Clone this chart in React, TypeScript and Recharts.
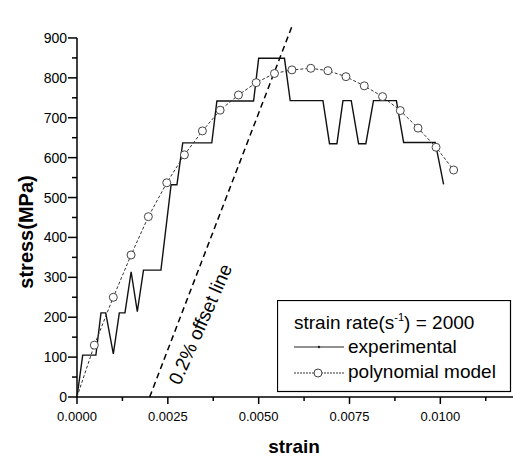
import React from 'react';
import { LineChart, Line, XAxis, YAxis, ReferenceLine, Legend, Label } from 'recharts';

// experimental (step-like) stress-strain curve
const expStrain = [0, 0.000157, 0.00052, 0.00066, 0.00079, 0.001, 0.001165, 0.00132, 0.00149, 0.00166, 0.00183, 0.00231, 0.00259, 0.00275, 0.00291, 0.00371, 0.00385, 0.00486, 0.005, 0.00571, 0.005868, 0.006769, 0.00695, 0.007154, 0.00732, 0.007548, 0.00775, 0.00795, 0.00816, 0.00879, 0.00899, 0.00986, 0.01009];
const expStress = [0, 105, 105, 211, 211, 108, 211, 211, 314, 214, 318, 318, 532, 532, 637, 637, 742, 742, 849, 849, 743, 743, 635, 635, 743, 743, 635, 635, 743, 743, 638, 638, 533];

// polynomial model
const polyStrain = [0, 0.000477, 0.000999, 0.001488, 0.001964, 0.002471, 0.002956, 0.003452, 0.003939, 0.004444, 0.004931, 0.005435, 0.005915, 0.006435, 0.006906, 0.007402, 0.007906, 0.00841, 0.008898, 0.009386, 0.009882, 0.010366];
const polyStress = [0, 130, 250, 356, 452, 537, 607, 667, 719, 757, 788, 811, 820, 824, 818, 803, 780, 753, 718, 674, 626, 569];

// 0.2% offset line
const offsetStrain = [0.002, 0.00592];
const offsetStress = [0, 930];

const xTicks = [0, 0.00125, 0.0025, 0.00375, 0.005, 0.00625, 0.0075, 0.00875, 0.01, 0.01125];
const yTicks = [0, 50, 100, 150, 200, 250, 300, 350, 400, 450, 500, 550, 600, 650, 700, 750, 800, 850, 900];

const expData = expStrain.map((x, i) => ({ x, y: expStress[i] }));
const polyData = polyStrain.map((x, i) => ({ x, y: polyStress[i] }));
const offsetData = offsetStrain.map((x, i) => ({ x, y: offsetStress[i] }));

const FONT = '"Liberation Sans", Arial, sans-serif';

const XTick = (props: any) => {
  const { x, y, payload } = props;
  const v = payload.value;
  const major = Math.abs(v / 0.0025 - Math.round(v / 0.0025)) < 1e-6;
  return (
    <g>
      <line x1={x} y1={y} x2={x} y2={y + (major ? 7 : 4)} stroke="#000" strokeWidth={1.5} />
      {major && (
        <text x={x} y={y + 24} textAnchor="middle" fontSize={13} fontFamily={FONT} fill="#000">
          {v.toFixed(4)}
        </text>
      )}
    </g>
  );
};

const YTick = (props: any) => {
  const { x, y, payload } = props;
  const v = payload.value;
  const major = v % 100 === 0;
  return (
    <g>
      <line x1={x - (major ? 9 : 5)} y1={y} x2={x} y2={y} stroke="#000" strokeWidth={1.5} />
      {major && (
        <text x={x - 10} y={y} dy="0.36em" textAnchor="end" fontSize={14} fontFamily={FONT} fill="#000">
          {v}
        </text>
      )}
    </g>
  );
};

const PolyDot = (props: any) => {
  const { cx, cy, index } = props;
  if (index === 0) return <g key={`d${index}`} />;
  return <circle key={`d${index}`} cx={cx} cy={cy} r={4} fill="#fff" stroke="#444" strokeWidth={1} />;
};

const LegendBox = () => (
  <svg width={235} height={93} style={{ display: 'block' }}>
    <rect x={0.5} y={0.5} width={233} height={91} fill="#fff" stroke="#000" strokeWidth={1.2} />
    <text x={17} y={29} fontSize={19} fontFamily={FONT} fill="#000">
      strain rate(s<tspan dy={-8} fontSize={11}>-1</tspan>
      <tspan dy={8}>) = 2000</tspan>
    </text>
    <line x1={17} y1={47} x2={67} y2={47} stroke="#222" strokeWidth={1} />
    <circle cx={42} cy={47} r={1.2} fill="#222" />
    <text x={71} y={53} fontSize={19} fontFamily={FONT} fill="#000">experimental</text>
    <line x1={17} y1={73} x2={67} y2={73} stroke="#333" strokeWidth={1} strokeDasharray="2 1" />
    <circle cx={41} cy={73} r={4} fill="#fff" stroke="#444" strokeWidth={1} />
    <text x={71} y={78} fontSize={19} fontFamily={FONT} fill="#000">polynomial model</text>
  </svg>
);

export default function App() {
  return (
    <div style={{ position: 'absolute', left: 0, top: 0, width: 513, height: 456, background: '#fff' }}>
      <LineChart width={513} height={456} margin={{ top: 26, right: 0, bottom: 29, left: 0 }}>
        <XAxis
          dataKey="x"
          type="number"
          domain={[0, 0.012]}
          ticks={xTicks}
          tickLine={false}
          tickSize={0}
          tickMargin={0}
          tick={<XTick />}
          axisLine={{ stroke: '#000', strokeWidth: 1.5 }}
          height={30}
          interval={0}
        >
          <Label
            content={(p: any) => {
              const vb = p.viewBox;
              return (
                <text x={vb.x + vb.width / 2 - 1} y={453} textAnchor="middle" fontSize={19} fontWeight="bold" fontFamily={FONT} fill="#000">
                  strain
                </text>
              );
            }}
          />
        </XAxis>
        <YAxis
          dataKey="y"
          type="number"
          domain={[0, 930]}
          ticks={yTicks}
          tickLine={false}
          tickSize={0}
          tickMargin={0}
          tick={<YTick />}
          axisLine={false}
          width={77}
          interval={0}
        >
          <Label
            content={() => (
              <text x={26} y={232} transform="rotate(-90 26 232)" dy="0.36em" textAnchor="middle" fontSize={20} fontWeight="bold" fontFamily={FONT} fill="#000">
                stress(MPa)
              </text>
            )}
          />
        </YAxis>
        <ReferenceLine segment={[{ x: 0, y: 0 }, { x: 0, y: 900 }]} stroke="#000" strokeWidth={1.5} />
        <Line
          data={offsetData}
          dataKey="y"
          type="linear"
          stroke="#000"
          strokeWidth={1.5}
          strokeDasharray="6 4"
          dot={false}
          activeDot={false}
          isAnimationActive={false}
          legendType="none"
        >
          <Label
            content={() => (
              <text x={200} y={324} transform="rotate(-66 200 324)" dy="0.36em" textAnchor="middle" fontSize={19} fontFamily={FONT} fill="#000">
                0.2% offset line
              </text>
            )}
          />
        </Line>
        <Line
          data={expData}
          dataKey="y"
          type="linear"
          stroke="#111"
          strokeWidth={1.4}
          dot={false}
          activeDot={false}
          isAnimationActive={false}
        />
        <Line
          data={polyData}
          dataKey="y"
          type="linear"
          stroke="#333"
          strokeWidth={1}
          strokeDasharray="3 2"
          dot={<PolyDot />}
          activeDot={false}
          isAnimationActive={false}
        />
        <Legend
          layout="horizontal"
          verticalAlign="middle"
          align="center"
          content={() => <LegendBox />}
          wrapperStyle={{ left: 277, top: 300, width: 235, height: 93 }}
        />
      </LineChart>
    </div>
  );
}
